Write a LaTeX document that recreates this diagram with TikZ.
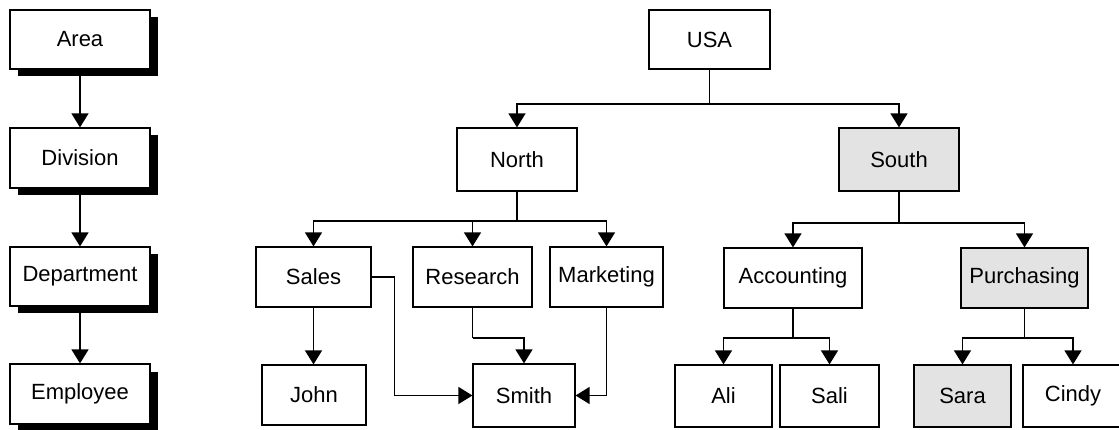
\documentclass[tikz,border=0pt]{standalone}
\usepackage{fontspec}
\setmainfont{Liberation Sans}
\usetikzlibrary{arrows.meta,shadows}
\tikzset{
  box/.style={draw, line width=1.2pt, fill=white, inner sep=0pt,
    font=\fontsize{22}{26}\selectfont},
  shadowbox/.style={box, drop shadow={shadow xshift=7.5pt, shadow yshift=-7.5pt,
    opacity=1, fill=black}},
  shaded/.style={fill=black!11},
  arr/.style={line width=1.3pt, -{Triangle[width=17pt,length=14pt]}},
  ln/.style={line width=1.3pt}
}
\begin{document}
\begin{tikzpicture}[x=1pt,y=-1pt]
\useasboundingbox (0,0) rectangle (1119,430);

% level schema with drop shadows
\node[shadowbox, minimum width=140, minimum height=59] (area) at (80,39.5) {Area};
\node[shadowbox, minimum width=140, minimum height=60] (div) at (80,158) {Division};
\node[shadowbox, minimum width=140, minimum height=59] (dep) at (80,276.5) {Department};
\node[shadowbox, minimum width=140, minimum height=60] (emp) at (80,394) {Employee};
\draw[arr] (area) -- (div);
\draw[arr] (div) -- (dep);
\draw[arr] (dep) -- (emp);

% hierarchy instance
\node[box, minimum width=121, minimum height=59] (usa) at (709.5,39.5) {USA};
\node[box, minimum width=120, minimum height=63] (north) at (517,159.5) {North};
\node[box, shaded, minimum width=120, minimum height=63] (south) at (899,159.5) {South};

\node[box, minimum width=115, minimum height=60] (sales) at (313.5,277) {Sales};
\node[box, minimum width=119, minimum height=60] (research) at (472.5,277) {Research};
\node[box, minimum width=113, minimum height=60] (marketing) at (606.5,277) {Marketing};
\node[box, minimum width=138, minimum height=60] (accounting) at (793,278) {Accounting};
\node[box, shaded, minimum width=127, minimum height=60] (purchasing) at (1024.5,278) {Purchasing};

\node[box, minimum width=104, minimum height=60] (john) at (314,395) {John};
\node[box, minimum width=102, minimum height=63] (smith) at (524,395.5) {Smith};
\node[box, minimum width=97, minimum height=62] (ali) at (723.5,396) {Ali};
\node[box, minimum width=99, minimum height=62] (sali) at (829.5,396) {Sali};
\node[box, shaded, minimum width=97, minimum height=62] (sara) at (962.5,396) {Sara};
\node[box, minimum width=100, minimum height=62] (cindy) at (1073,396) {Cindy};

% branch points
\coordinate (jusa) at (709.5,104);
\coordinate (jnorth) at (517,221);
\coordinate (jsouth) at (899,223);
\coordinate (jacc) at (793,338);
\coordinate (jpur) at (1024.5,338);
\coordinate (jres) at (472.5,338);

\draw[ln] (usa.south) -- (jusa);
\draw[arr] (jusa) -| (north.north);
\draw[arr] (jusa) -| (south.north);

\draw[ln] (north.south) -- (jnorth);
\draw[arr] (jnorth) -| (sales.north);
\draw[arr] (jnorth) -| (research.north);
\draw[arr] (jnorth) -| (marketing.north);

\draw[ln] (south.south) -- (jsouth);
\draw[arr] (jsouth) -| (accounting.north);
\draw[arr] (jsouth) -| (purchasing.north);

\draw[arr] (sales.south) -- (sales.south |- john.north);
\draw[arr] (sales.east) -- ++(23,0) |- (smith.west);
\draw[ln] (research.south) -- (jres);
\draw[arr] (jres) -| (smith.north);
\draw[arr] (marketing.south) |- (smith.east);

\draw[ln] (accounting.south) -- (jacc);
\draw[arr] (jacc) -| (ali.north);
\draw[arr] (jacc) -| (sali.north);

\draw[ln] (purchasing.south) -- (jpur);
\draw[arr] (jpur) -| (sara.north);
\draw[arr] (jpur) -| (cindy.north);
\end{tikzpicture}
\end{document}
